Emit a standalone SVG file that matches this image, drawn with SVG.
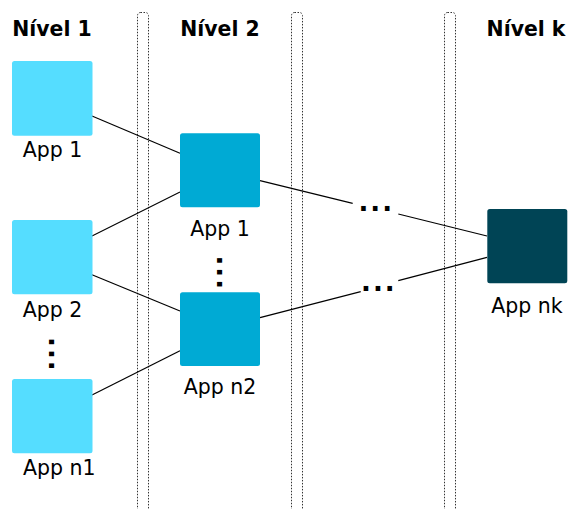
<svg xmlns="http://www.w3.org/2000/svg" width="569" height="509" viewBox="0 0 569 509">
<style>
.title{font-family:"DejaVu Sans",sans-serif;font-weight:bold;font-size:20.4px;fill:#000;text-anchor:middle}
.lbl{font-family:"DejaVu Sans",sans-serif;font-size:20.5px;fill:#000;text-anchor:middle}
.dots{font-family:"DejaVu Sans",sans-serif;font-weight:bold;font-size:26px;letter-spacing:2px;fill:#000}
.sep{fill:none;stroke:#333;stroke-width:1;stroke-dasharray:1.5 1.5}
.l1{fill:#55ddff}
.l2{fill:#00aad4}
.lk{fill:#004455}
.conn line{stroke:#000;stroke-width:1.2}
</style>
<rect width="569" height="509" fill="#fff"/>
<g id="separators">
<rect class="sep" x="137.5" y="12.5" width="11" height="510" rx="3"/>
<rect class="sep" x="291.5" y="12.5" width="11" height="510" rx="3"/>
<rect class="sep" x="444.5" y="12.5" width="11" height="510" rx="3"/>
</g>
<g id="titles">
<text class="title" x="52" y="35.7">Nível 1</text>
<text class="title" x="220" y="35.7">Nível 2</text>
<text class="title" x="526" y="35.7">Nível k</text>
</g>
<g id="connectors" class="conn">
<line x1="92" y1="116" x2="180" y2="153.3"/>
<line x1="92" y1="236" x2="180" y2="192"/>
<line x1="92" y1="274.7" x2="180" y2="311"/>
<line x1="92" y1="395" x2="180" y2="350.7"/>
<line x1="260" y1="180.7" x2="352.7" y2="203.3"/>
<line x1="398.3" y1="214" x2="487" y2="236"/>
<line x1="260" y1="317.7" x2="360.7" y2="291.7"/>
<line x1="398.3" y1="280.7" x2="487" y2="257.3"/>
</g>
<g id="l1-app1">
<rect class="l1" x="12" y="61" width="80.5" height="74.7" rx="2.5"/>
<text class="lbl" x="52.5" y="156.7">App 1</text>
</g>
<g id="l1-app2">
<rect class="l1" x="12" y="220" width="80.5" height="74.3" rx="2.5"/>
<text class="lbl" x="52.5" y="316.7">App 2</text>
</g>
<g id="l1-appn1">
<rect class="l1" x="12" y="379" width="80.5" height="74.3" rx="2.5"/>
<text class="lbl" x="59.2" y="475">App n1</text>
</g>
<g id="l2-app1">
<rect class="l2" x="180" y="133.3" width="80" height="74" rx="2.5"/>
<text class="lbl" x="220" y="236.3">App 1</text>
</g>
<g id="l2-appn2">
<rect class="l2" x="180" y="292.3" width="80" height="73.7" rx="2.5"/>
<text class="lbl" x="220" y="394">App n2</text>
</g>
<g id="lk-appnk">
<rect class="lk" x="487.3" y="209" width="80" height="74.3" rx="2.5"/>
<text class="lbl" x="527" y="313.3">App nk</text>
</g>
<g id="ellipses">
<text class="dots" x="358.4" y="210.7">...</text>
<text class="dots" x="361" y="291">...</text>
<text class="dots" transform="translate(216.7 255.4) rotate(90)">...</text>
<text class="dots" transform="translate(49 337) rotate(90)">...</text>
</g>
</svg>
